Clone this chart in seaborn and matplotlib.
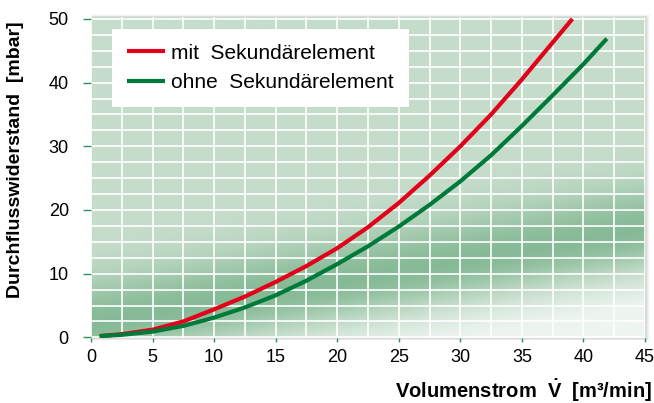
import numpy as np
import pandas as pd
import matplotlib
matplotlib.use("Agg")
import matplotlib.pyplot as plt
from matplotlib.patches import Rectangle
from matplotlib.ticker import MultipleLocator
import seaborn as sns

# Pressure drop curves: volume flow [m³/min] vs. flow resistance [mbar]
flow_mit = [0.7, 2.5, 5, 7.5, 10, 12.5, 15, 17.5, 20, 22.5, 25, 27.5, 30, 32.5, 35, 37.5, 39.1]
dp_mit = [0.2, 0.5, 1.2, 2.5, 4.4, 6.4, 8.7, 11.2, 14.0, 17.3, 21.1, 25.4, 30.0, 35.0, 40.5, 46.3, 50.0]

flow_ohne = [0.7, 2.5, 5, 7.5, 10, 12.5, 15, 17.5, 20, 22.5, 25, 27.5, 30, 32.5, 35, 37.5, 40, 41.9]
dp_ohne = [0.2, 0.4, 0.9, 1.8, 3.1, 4.7, 6.6, 8.9, 11.5, 14.3, 17.4, 20.8, 24.5, 28.6, 33.2, 38.0, 42.9, 46.9]

series_labels = ["mit  Sekundärelement", "ohne  Sekundärelement"]
series_colors = ["#e2001a", "#007a3b"]

x_ticks = [0, 5, 10, 15, 20, 25, 30, 35, 40, 45]
y_ticks = [0, 10, 20, 30, 40, 50]

x_label = r"Volumenstrom  $\mathbf{\dot{V}}$  [m³/min]"
y_label = "Durchflusswiderstand  [mbar]"

df = pd.concat([
    pd.DataFrame({"flow": flow_mit, "dp": dp_mit, "variant": series_labels[0]}),
    pd.DataFrame({"flow": flow_ohne, "dp": dp_ohne, "variant": series_labels[1]}),
], ignore_index=True)

sns.set_theme(style="white")
plt.rcParams["font.family"] = ["Liberation Sans", "DejaVu Sans"]
plt.rcParams["mathtext.fontset"] = "custom"
plt.rcParams["mathtext.rm"] = "Liberation Sans"
plt.rcParams["mathtext.bf"] = "Liberation Sans:bold"
plt.rcParams["text.color"] = "black"
plt.rcParams["xtick.labelcolor"] = "black"
plt.rcParams["ytick.labelcolor"] = "black"

W, H = 654, 403
fig = plt.figure(figsize=(W / 100, H / 100), dpi=100)
fig.patch.set_facecolor("white")

left, right, top, bottom = 91, 645, 17, 338
ax = fig.add_axes([left / W, 1 - bottom / H, (right - left) / W, (bottom - top) / H])

# soft drop shadow around the plot panel
for i, a in enumerate([0.05, 0.04, 0.03, 0.02]):
    d = i + 1
    fig.patches.append(Rectangle(((left + 1) / W, (H - bottom - 1 - d * 0.3) / H),
                                 (right - left + d) / W, (bottom - top + d + 1) / H,
                                 transform=fig.transFigure, facecolor="black",
                                 edgecolor="none", alpha=a, zorder=-5))

xmin, xmax = 0, 45
ymin, ymax = -0.1, 50.3

# green background wash with a darker diagonal band
gx = np.linspace(xmin, xmax, 400)
gy = np.linspace(ymin, ymax, 400)
X, Y = np.meshgrid(gx, gy)
yc = 2.0 + 0.33 * X
sig = np.where(Y > yc, 5.0, 4.2)
t = np.exp(-0.5 * ((Y - yc) / sig) ** 2)
light_top = np.array([0.780, 0.866, 0.800])
light_bot = np.array([0.935, 0.962, 0.940])
dark = np.array([0.50, 0.715, 0.565])
wb = np.clip((yc - Y) / 12.0, 0, 1)[..., None]
base = light_top * (1 - wb) + light_bot * wb
img = base * (1 - 0.9 * t[..., None]) + dark * (0.9 * t[..., None])
ax.imshow(img, extent=[xmin, xmax, ymin, ymax], origin="lower", aspect="auto", zorder=0)

sns.lineplot(data=df, x="flow", y="dp", hue="variant", palette=series_colors,
             linewidth=3.0, sort=False, ax=ax, zorder=3,
             solid_capstyle="butt", solid_joinstyle="round")

ax.set_xlim(xmin, xmax)
ax.set_ylim(ymin, ymax)
ax.set_xticks(x_ticks)
ax.set_yticks(y_ticks)
ax.xaxis.set_minor_locator(MultipleLocator(2.5))
ax.yaxis.set_minor_locator(MultipleLocator(2.5))
ax.grid(which="both", color="white", linewidth=1.2, zorder=1)
ax.set_axisbelow(False)
for gl in ax.get_xgridlines() + ax.get_ygridlines():
    gl.set_zorder(1)
ax.tick_params(axis="x", which="major", direction="out", length=3, width=1,
               color="#2e9160", labelsize=13, pad=5, bottom=True)
ax.tick_params(axis="y", which="major", direction="out", length=6, width=1,
               color="#2e9160", labelsize=13, pad=10, left=True)
ax.tick_params(which="minor", length=0)
for s in ax.spines.values():
    s.set_visible(False)
ax.set_xlabel("")
ax.set_ylabel("")

handles, labels = ax.get_legend_handles_labels()
leg = ax.legend(handles=handles, labels=series_labels, loc="upper left",
                bbox_to_anchor=((112 - left) / (right - left), (bottom - 29) / (bottom - top)),
                borderaxespad=0, frameon=True, fancybox=False, framealpha=1,
                facecolor="white", edgecolor="none", fontsize=15,
                handlelength=1.85, handletextpad=0.3, labelspacing=0.5,
                borderpad=0.7)
for h in leg.get_lines():
    h.set_linewidth(3.0)
leg.set_zorder(5)

fig.text(16 / W, 1 - 160 / H, y_label, rotation=90, ha="center", va="center",
         fontsize=14, fontweight="bold")
fig.text(652 / W, 1 - 391 / H, x_label, ha="right", va="center",
         fontsize=14.5, fontweight="bold")

fig.savefig("out.png", dpi=100)
